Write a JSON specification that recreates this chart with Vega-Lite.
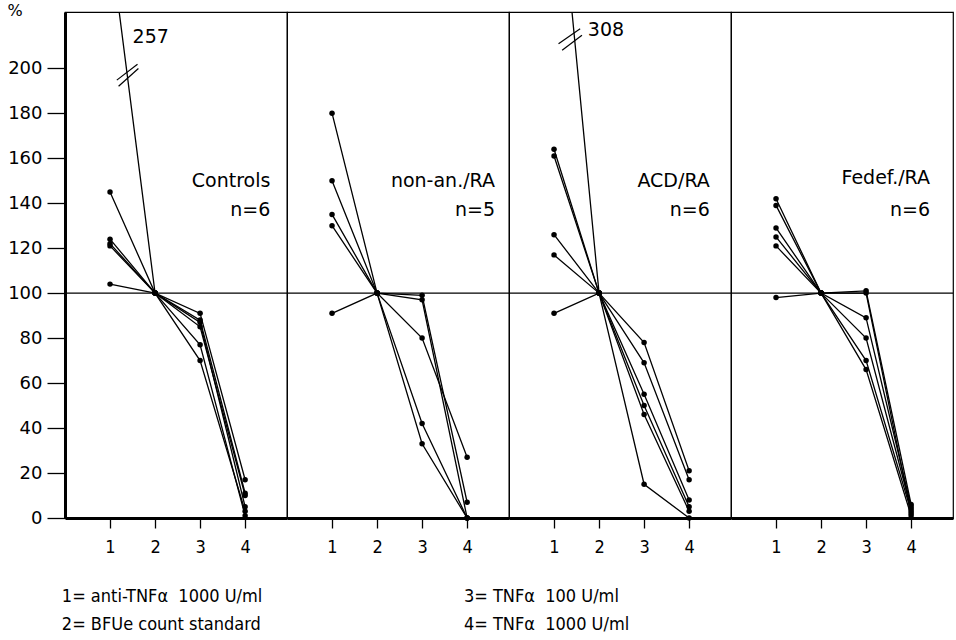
{
  "$schema": "https://vega.github.io/schema/vega-lite/v6.json",
  "padding": {"left": 7, "top": 2, "right": 3, "bottom": 2},
  "background": "white",
  "data": {"values": [
    {"k":"pt","panel":"Controls","id":"c1","t":1,"v":257},{"k":"pt","panel":"Controls","id":"c1","t":2,"v":100},{"k":"pt","panel":"Controls","id":"c1","t":3,"v":91},{"k":"pt","panel":"Controls","id":"c1","t":4,"v":17},
    {"k":"pt","panel":"Controls","id":"c2","t":1,"v":145},{"k":"pt","panel":"Controls","id":"c2","t":2,"v":100},{"k":"pt","panel":"Controls","id":"c2","t":3,"v":70},{"k":"pt","panel":"Controls","id":"c2","t":4,"v":3},
    {"k":"pt","panel":"Controls","id":"c3","t":1,"v":124},{"k":"pt","panel":"Controls","id":"c3","t":2,"v":100},{"k":"pt","panel":"Controls","id":"c3","t":3,"v":88},{"k":"pt","panel":"Controls","id":"c3","t":4,"v":11},
    {"k":"pt","panel":"Controls","id":"c4","t":1,"v":122},{"k":"pt","panel":"Controls","id":"c4","t":2,"v":100},{"k":"pt","panel":"Controls","id":"c4","t":3,"v":85},{"k":"pt","panel":"Controls","id":"c4","t":4,"v":10},
    {"k":"pt","panel":"Controls","id":"c5","t":1,"v":121},{"k":"pt","panel":"Controls","id":"c5","t":2,"v":100},{"k":"pt","panel":"Controls","id":"c5","t":3,"v":77},{"k":"pt","panel":"Controls","id":"c5","t":4,"v":1},
    {"k":"pt","panel":"Controls","id":"c6","t":1,"v":104},{"k":"pt","panel":"Controls","id":"c6","t":2,"v":100},{"k":"pt","panel":"Controls","id":"c6","t":3,"v":87},{"k":"pt","panel":"Controls","id":"c6","t":4,"v":5},
    {"k":"pt","panel":"non-an./RA","id":"n1","t":1,"v":180},{"k":"pt","panel":"non-an./RA","id":"n1","t":2,"v":100},{"k":"pt","panel":"non-an./RA","id":"n1","t":3,"v":33},{"k":"pt","panel":"non-an./RA","id":"n1","t":4,"v":0},
    {"k":"pt","panel":"non-an./RA","id":"n2","t":1,"v":150},{"k":"pt","panel":"non-an./RA","id":"n2","t":2,"v":100},{"k":"pt","panel":"non-an./RA","id":"n2","t":3,"v":42},{"k":"pt","panel":"non-an./RA","id":"n2","t":4,"v":0},
    {"k":"pt","panel":"non-an./RA","id":"n3","t":1,"v":135},{"k":"pt","panel":"non-an./RA","id":"n3","t":2,"v":100},{"k":"pt","panel":"non-an./RA","id":"n3","t":3,"v":99},{"k":"pt","panel":"non-an./RA","id":"n3","t":4,"v":7},
    {"k":"pt","panel":"non-an./RA","id":"n4","t":1,"v":130},{"k":"pt","panel":"non-an./RA","id":"n4","t":2,"v":100},{"k":"pt","panel":"non-an./RA","id":"n4","t":3,"v":97},{"k":"pt","panel":"non-an./RA","id":"n4","t":4,"v":0},
    {"k":"pt","panel":"non-an./RA","id":"n5","t":1,"v":91},{"k":"pt","panel":"non-an./RA","id":"n5","t":2,"v":100},{"k":"pt","panel":"non-an./RA","id":"n5","t":3,"v":80},{"k":"pt","panel":"non-an./RA","id":"n5","t":4,"v":27},
    {"k":"pt","panel":"ACD/RA","id":"a1","t":1,"v":308},{"k":"pt","panel":"ACD/RA","id":"a1","t":2,"v":100},{"k":"pt","panel":"ACD/RA","id":"a1","t":3,"v":15},{"k":"pt","panel":"ACD/RA","id":"a1","t":4,"v":0},
    {"k":"pt","panel":"ACD/RA","id":"a2","t":1,"v":164},{"k":"pt","panel":"ACD/RA","id":"a2","t":2,"v":100},{"k":"pt","panel":"ACD/RA","id":"a2","t":3,"v":55},{"k":"pt","panel":"ACD/RA","id":"a2","t":4,"v":8},
    {"k":"pt","panel":"ACD/RA","id":"a3","t":1,"v":161},{"k":"pt","panel":"ACD/RA","id":"a3","t":2,"v":100},{"k":"pt","panel":"ACD/RA","id":"a3","t":3,"v":50},{"k":"pt","panel":"ACD/RA","id":"a3","t":4,"v":5},
    {"k":"pt","panel":"ACD/RA","id":"a4","t":1,"v":126},{"k":"pt","panel":"ACD/RA","id":"a4","t":2,"v":100},{"k":"pt","panel":"ACD/RA","id":"a4","t":3,"v":78},{"k":"pt","panel":"ACD/RA","id":"a4","t":4,"v":21},
    {"k":"pt","panel":"ACD/RA","id":"a5","t":1,"v":117},{"k":"pt","panel":"ACD/RA","id":"a5","t":2,"v":100},{"k":"pt","panel":"ACD/RA","id":"a5","t":3,"v":69},{"k":"pt","panel":"ACD/RA","id":"a5","t":4,"v":17},
    {"k":"pt","panel":"ACD/RA","id":"a6","t":1,"v":91},{"k":"pt","panel":"ACD/RA","id":"a6","t":2,"v":100},{"k":"pt","panel":"ACD/RA","id":"a6","t":3,"v":46},{"k":"pt","panel":"ACD/RA","id":"a6","t":4,"v":3},
    {"k":"pt","panel":"Fedef./RA","id":"f1","t":1,"v":142},{"k":"pt","panel":"Fedef./RA","id":"f1","t":2,"v":100},{"k":"pt","panel":"Fedef./RA","id":"f1","t":3,"v":89},{"k":"pt","panel":"Fedef./RA","id":"f1","t":4,"v":5},
    {"k":"pt","panel":"Fedef./RA","id":"f2","t":1,"v":139},{"k":"pt","panel":"Fedef./RA","id":"f2","t":2,"v":100},{"k":"pt","panel":"Fedef./RA","id":"f2","t":3,"v":101},{"k":"pt","panel":"Fedef./RA","id":"f2","t":4,"v":6},
    {"k":"pt","panel":"Fedef./RA","id":"f3","t":1,"v":129},{"k":"pt","panel":"Fedef./RA","id":"f3","t":2,"v":100},{"k":"pt","panel":"Fedef./RA","id":"f3","t":3,"v":80},{"k":"pt","panel":"Fedef./RA","id":"f3","t":4,"v":4},
    {"k":"pt","panel":"Fedef./RA","id":"f4","t":1,"v":125},{"k":"pt","panel":"Fedef./RA","id":"f4","t":2,"v":100},{"k":"pt","panel":"Fedef./RA","id":"f4","t":3,"v":70},{"k":"pt","panel":"Fedef./RA","id":"f4","t":4,"v":3},
    {"k":"pt","panel":"Fedef./RA","id":"f5","t":1,"v":121},{"k":"pt","panel":"Fedef./RA","id":"f5","t":2,"v":100},{"k":"pt","panel":"Fedef./RA","id":"f5","t":3,"v":66},{"k":"pt","panel":"Fedef./RA","id":"f5","t":4,"v":1},
    {"k":"pt","panel":"Fedef./RA","id":"f6","t":1,"v":98},{"k":"pt","panel":"Fedef./RA","id":"f6","t":2,"v":100},{"k":"pt","panel":"Fedef./RA","id":"f6","t":3,"v":100},{"k":"pt","panel":"Fedef./RA","id":"f6","t":4,"v":2},
    {"k":"lab","panel":"Controls","t":4.56,"v":150,"txt":"Controls"},{"k":"lab","panel":"Controls","t":4.56,"v":137,"txt":"n=6"},
    {"k":"lab","panel":"non-an./RA","t":4.62,"v":150,"txt":"non-an./RA"},{"k":"lab","panel":"non-an./RA","t":4.62,"v":137,"txt":"n=5"},
    {"k":"lab","panel":"ACD/RA","t":4.46,"v":150,"txt":"ACD/RA"},{"k":"lab","panel":"ACD/RA","t":4.46,"v":137,"txt":"n=6"},
    {"k":"lab","panel":"Fedef./RA","t":4.42,"v":151,"txt":"Fedef./RA"},{"k":"lab","panel":"Fedef./RA","t":4.42,"v":137,"txt":"n=6"},
    {"k":"note","panel":"Controls","t":1.5,"v":214,"txt":"257"},
    {"k":"note","panel":"ACD/RA","t":1.75,"v":217,"txt":"308"},
    {"k":"brk","panel":"Controls","t":1.15,"v":194.7,"t2":1.61,"v2":201.8},
    {"k":"brk","panel":"Controls","t":1.19,"v":192,"t2":1.63,"v2":199.9},
    {"k":"brk","panel":"ACD/RA","t":1.10,"v":210.9,"t2":1.58,"v2":217.6},
    {"k":"brk","panel":"ACD/RA","t":1.18,"v":208,"t2":1.62,"v2":214.7},
    {"k":"leg","panel":"Controls","t":-0.07,"v":-35,"txt":"1= anti-TNFα\u00a0 1000 U/ml"},
    {"k":"leg","panel":"Controls","t":-0.07,"v":-47.5,"txt":"2= BFUe count standard"},
    {"k":"leg","panel":"non-an./RA","t":3.93,"v":-35,"txt":"3= TNFα\u00a0 100 U/ml"},
    {"k":"leg","panel":"non-an./RA","t":3.93,"v":-47.5,"txt":"4= TNFα\u00a0 1000 U/ml"}
  ]},
  "facet": {"column": {"field": "panel", "type": "nominal", "sort": ["Controls", "non-an./RA", "ACD/RA", "Fedef./RA"], "header": null}},
  "spacing": 0,
  "bounds": "flush",
  "spec": {
    "width": 222,
    "height": 506,
    "encoding": {
      "x": {"field": "t", "type": "quantitative", "scale": {"domain": [0, 4.93], "nice": false, "zero": false},
            "axis": {"values": [1, 2, 3, 4], "title": null, "format": "d"}},
      "y": {"field": "v", "type": "quantitative", "scale": {"domain": [0, 225], "nice": false},
            "axis": {"values": [0, 20, 40, 60, 80, 100, 120, 140, 160, 180, 200], "title": "%"}}
    },
    "layer": [
      {"transform": [{"filter": "datum.k == 'lab' && indexof(datum.txt, 'n=') == 0"}],
       "mark": {"type": "rule", "color": "black", "strokeWidth": 1.2},
       "encoding": {"x": {"datum": 0}, "x2": {"datum": 4.93}, "y": {"datum": 100}}},
      {"transform": [{"filter": "datum.k == 'pt'"}],
       "mark": {"type": "line", "color": "black", "strokeWidth": 1.3, "clip": true},
       "encoding": {"detail": {"field": "id"}, "order": {"field": "t"}}},
      {"transform": [{"filter": "datum.k == 'pt' && datum.v <= 225"}],
       "mark": {"type": "circle", "color": "black", "size": 30, "opacity": 1}},
      {"transform": [{"filter": "datum.k == 'brk'"}],
       "mark": {"type": "rule", "color": "black", "strokeWidth": 1.2},
       "encoding": {"x2": {"field": "t2"}, "y2": {"field": "v2"}}},
      {"transform": [{"filter": "datum.k == 'lab'"}],
       "mark": {"type": "text", "align": "right", "baseline": "middle", "font": "DejaVu Sans", "fontSize": 19, "color": "black"},
       "encoding": {"text": {"field": "txt"}}},
      {"transform": [{"filter": "datum.k == 'note'"}],
       "mark": {"type": "text", "align": "left", "baseline": "middle", "font": "DejaVu Sans", "fontSize": 19, "color": "black"},
       "encoding": {"text": {"field": "txt"}}},
      {"transform": [{"filter": "datum.k == 'leg'"}],
       "mark": {"type": "text", "align": "left", "baseline": "middle", "font": "'Liberation Sans Narrow', 'DejaVu Sans Condensed', 'Liberation Sans', sans-serif", "fontSize": 18, "color": "black"},
       "encoding": {"text": {"field": "txt"}}}
    ]
  },
  "config": {
    "view": {"stroke": "black", "strokeWidth": 1.2},
    "axis": {"grid": false, "domainColor": "black", "tickColor": "black", "labelColor": "black", "titleColor": "black"},
    "axisY": {"domainWidth": 3, "tickWidth": 1.3, "tickSize": 18, "labelPadding": 5, "labelFont": "DejaVu Sans", "labelFontSize": 18,
              "titleAngle": 0, "titleAlign": "left", "titleBaseline": "top", "titleX": -58, "titleY": -10, "titleFont": "DejaVu Sans", "titleFontSize": 16, "titleFontWeight": "normal"},
    "axisX": {"domainWidth": 3, "tickWidth": 1.3, "tickSize": 10, "labelPadding": 10, "labelFont": "'Liberation Sans Narrow', 'DejaVu Sans Condensed', 'Liberation Sans', sans-serif", "labelFontSize": 18}
  }
}
